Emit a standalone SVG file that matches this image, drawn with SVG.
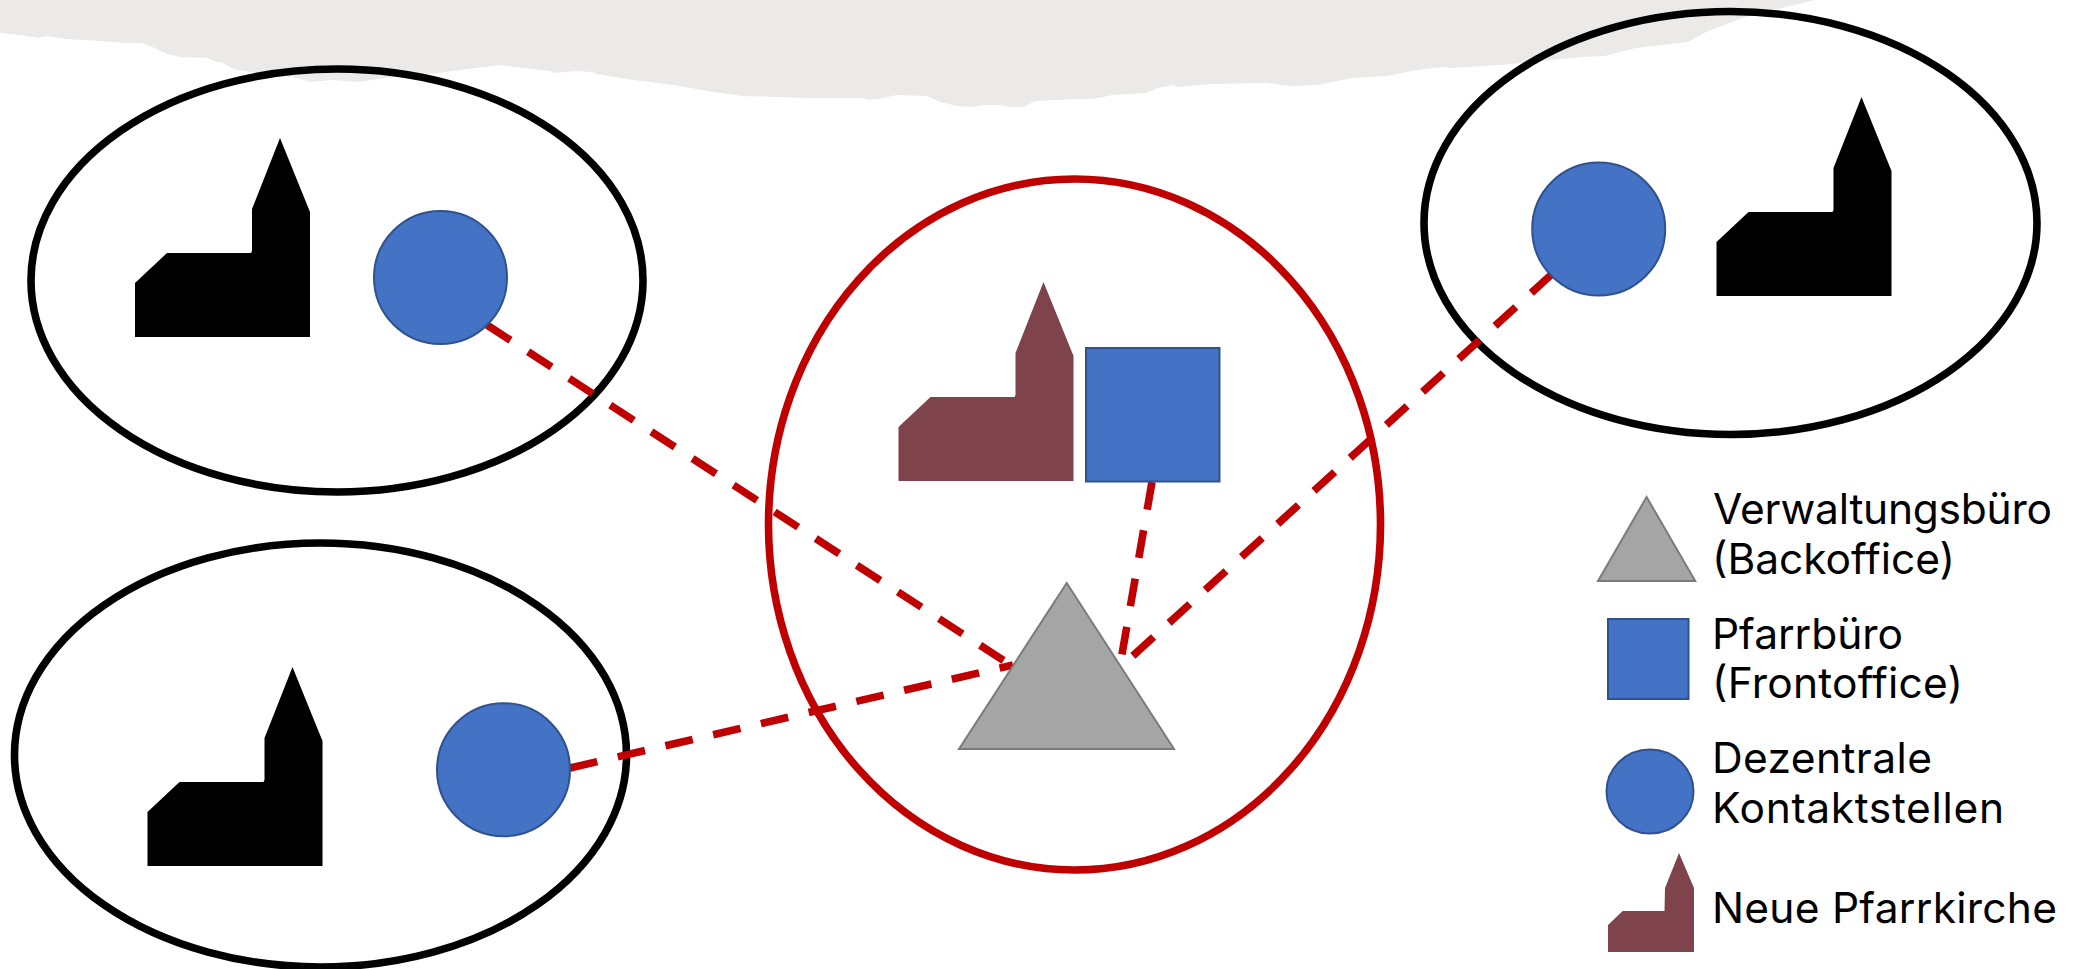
<svg xmlns="http://www.w3.org/2000/svg" width="2085" height="969" viewBox="0 0 2085 969">
<style>
.ring{fill:none;stroke-width:7.6}
.blk{stroke:#000}
.red{stroke:#C00000}
.link{fill:none;stroke:#C00000;stroke-width:7.6;stroke-dasharray:28 21}
.blue{fill:#4472C4;stroke:#2F528F;stroke-width:2}
.tri{fill:#A5A5A5;stroke:#7B7B7B;stroke-width:2}
.new{fill:#7E434B}
.lbl{font-family:"Inter","Liberation Sans",sans-serif;font-size:42.5px;fill:#000}
</style>
<defs>
<polygon id="church" points="0,0 0,-54 32,-84 116,-84 117,-86 117,-128 145,-199 175,-125 175,0"/>
</defs>
<rect width="2085" height="969" fill="#fff"/>
<path id="band" fill="#EBEAE8" d="M0,0 L0,33 L20,35 L38,38 L47,36 L67,39 L100,41 L125,43 L142,43 L155,48 L167,54 L180,57 L208,58 L217,62 L223,63 L233,69 L250,72 L293,77 L310,82 L333,80 L357,82 L393,77 L437,73 L500,65 L525,68 L550,71 L555,73 L575,71 L592,72 L597,74 L633,80 L650,82 L680,86 L713,92 L743,96 L807,98 L863,98 L868,100 L883,98 L897,95 L927,96 L940,102 L957,106 L973,107 L983,105 L1000,105 L1010,107 L1023,107 L1035,101 L1080,99 L1092,99 L1113,95 L1147,93 L1157,88 L1172,85 L1178,87 L1210,84 L1267,83 L1290,86 L1317,85 L1353,78 L1387,76 L1417,70 L1443,67 L1450,68 L1500,65 L1531,62 L1583,57 L1605,56 L1636,48 L1688,42 L1706,32 L1745,17 L1815,0 Z"/>
<g id="cluster-top-left"><ellipse class="ring blk" cx="337" cy="280.5" rx="306" ry="211.5"/></g>
<g id="cluster-bottom-left"><ellipse class="ring blk" cx="320.5" cy="755" rx="306" ry="212"/></g>
<g id="cluster-top-right"><ellipse class="ring blk" cx="1730.5" cy="223" rx="306.5" ry="211.5"/></g>
<g id="cluster-center"><ellipse class="ring red" cx="1074.5" cy="524.5" rx="306" ry="345.5"/></g>
<g id="connectors">
<path class="link" d="M487,325 L1012,666"/>
<path class="link" d="M570,768 L1013,665"/>
<path class="link" d="M1152,482 L1121,660"/>
<path class="link" d="M1552,274 L1125,663"/>
</g>
<g id="church-top-left"><use href="#church" x="135" y="337" fill="#000"/></g>
<g id="contact-top-left"><circle class="blue" cx="440.5" cy="277.5" r="66.5"/></g>
<g id="church-bottom-left"><use href="#church" x="147.5" y="866" fill="#000"/></g>
<g id="contact-bottom-left"><circle class="blue" cx="503.5" cy="769.7" r="66.5"/></g>
<g id="church-top-right"><use href="#church" x="1716.5" y="296" fill="#000"/></g>
<g id="contact-top-right"><circle class="blue" cx="1598.7" cy="229" r="66.5"/></g>
<g id="church-center"><use href="#church" class="new" x="898.5" y="481"/></g>
<g id="pfarrbuero"><rect class="blue" x="1086" y="348" width="133.5" height="133.5"/></g>
<g id="verwaltung"><polygon class="tri" points="1066.7,583 959,749 1174,749"/></g>
<g id="legend-verwaltung"><polygon class="tri" points="1646.6,497 1598,581 1695.2,581"/><text class="lbl" x="1713" y="524" textLength="339">Verwaltungsbüro</text><text class="lbl" x="1712" y="574" textLength="243">(Backoffice)</text></g>
<g id="legend-pfarrbuero"><rect class="blue" x="1608" y="619" width="80.5" height="80"/><text class="lbl" x="1712" y="649" textLength="191">Pfarrbüro</text><text class="lbl" x="1712" y="698" textLength="251">(Frontoffice)</text></g>
<g id="legend-kontakt"><ellipse class="blue" cx="1650" cy="791.5" rx="43.5" ry="42"/><text class="lbl" x="1712" y="773" textLength="220">Dezentrale</text><text class="lbl" x="1712" y="823" textLength="292">Kontaktstellen</text></g>
<g id="legend-kirche"><polygon class="new" points="1608,952 1608,925 1622.7,911 1664.5,911 1665,888 1679,853 1694,888 1694,952"/><text class="lbl" x="1712" y="923" textLength="345">Neue Pfarrkirche</text></g>
</svg>
